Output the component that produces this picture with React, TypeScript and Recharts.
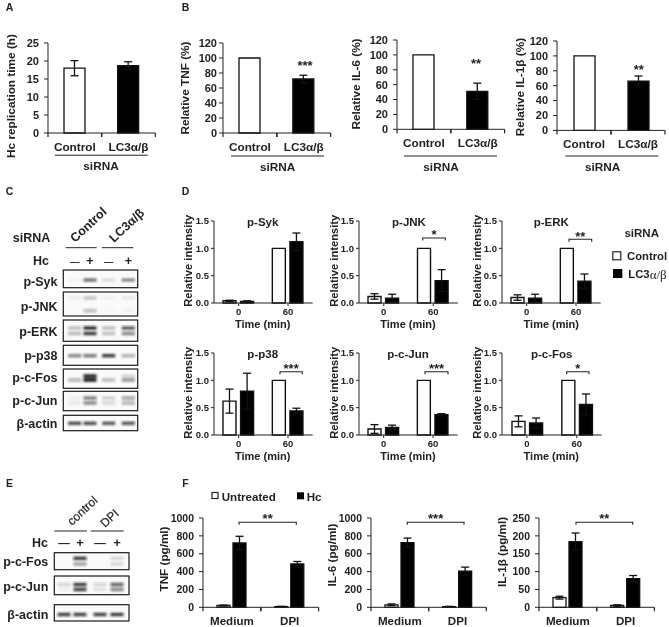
import { BarChart, Bar, XAxis, YAxis, ErrorBar, Cell } from "recharts";

const FONT = "'Liberation Sans', Arial, sans-serif";
const INK = "#222222";

// panel A / B
const knockdownLabels = ["Control", "LC3α/β"];
const replicationValues = [18, 18.7];
const replicationErrors = [2.1, 1.1];
const tnfValues = [100, 72];
const tnfErrors = [0, 5];
const il6Values = [100, 51];
const il6Errors = [0, 11];
const il1Values = [100, 66];
const il1Errors = [0, 7];

// panel D, [0 min, 60 min]
const timeLabels = ["0", "60"];
const pSykControl = [0.04, 1.0];
const pSykControlErr = [0.01, 0];
const pSykLc3 = [0.03, 1.12];
const pSykLc3Err = [0.01, 0.16];
const pJnkControl = [0.12, 1.0];
const pJnkControlErr = [0.05, 0];
const pJnkLc3 = [0.09, 0.41];
const pJnkLc3Err = [0.07, 0.2];
const pErkControl = [0.1, 1.0];
const pErkControlErr = [0.05, 0];
const pErkLc3 = [0.09, 0.4];
const pErkLc3Err = [0.07, 0.13];
const pP38Control = [0.62, 1.0];
const pP38ControlErr = [0.22, 0];
const pP38Lc3 = [0.8, 0.44];
const pP38Lc3Err = [0.33, 0.05];
const pJunControl = [0.11, 1.0];
const pJunControlErr = [0.08, 0];
const pJunLc3 = [0.14, 0.37];
const pJunLc3Err = [0.04, 0.02];
const pFosControl = [0.25, 1.0];
const pFosControlErr = [0.1, 0];
const pFosLc3 = [0.22, 0.56];
const pFosLc3Err = [0.09, 0.19];

// panel F, [Medium, DPI]
const treatmentLabels = ["Medium", "DPI"];
const fTnfUntreated = [20, 8];
const fTnfUntreatedErr = [5, 3];
const fTnfHc = [720, 485];
const fTnfHcErr = [75, 28];
const fIl6Untreated = [28, 8];
const fIl6UntreatedErr = [10, 3];
const fIl6Hc = [725, 405];
const fIl6HcErr = [50, 45];
const fIl1Untreated = [27, 5];
const fIl1UntreatedErr = [4, 2];
const fIl1Hc = [184, 80];
const fIl1HcErr = [24, 9];

// blot band strengths per lane (-, +, -, +)
const cSyk = [[0.03, 0.6, 0.12, 0.5]];
const cJnk = [[0.06, 0.22, 0.04, 0.08], [0, 0.28, 0.02, 0.04]];
const cErk = [[0.25, 0.9, 0.25, 0.7], [0.3, 0.85, 0.28, 0.5]];
const cP38 = [[0.5, 0.55, 0.85, 0.32]];
const cFos = [[0, 0.95, 0, 0.15], [0.3, 1, 0.28, 0.45]];
const cJun = [[0.05, 0.55, 0.18, 0.38], [0.08, 0.5, 0.14, 0.32]];
const cActin = [[0.75, 0.75, 0.7, 0.7]];
const eFos = [[0, 0.85, 0, 0.15], [0, 0.4, 0, 0.15]];
const eJun = [[0.15, 0.85, 0.15, 0.65], [0.05, 0.8, 0.1, 0.5]];
const eActin = [[0.8, 0.8, 0.8, 0.85]];

function pairRows(labels: string[], values: number[], errors: number[]) {
  return labels.map((name, i) => ({ name, a: values[i], aErr: errors[i] }));
}

function groupRows(labels: string[], a: number[], aErr: number[], b: number[], bErr: number[]) {
  return labels.map((name, i) => ({ name, a: a[i], aErr: aErr[i], b: b[i], bErr: bErr[i] }));
}

function BandTick({ x, y, payload, band, size }: any) {
  return (
    <g>
      <line x1={x - band / 2} x2={x - band / 2} y1={y} y2={y + 4} stroke={INK} strokeWidth={1.2} />
      <line x1={x + band / 2} x2={x + band / 2} y1={y} y2={y + 4} stroke={INK} strokeWidth={1.2} />
      <text x={x} y={y + 18} textAnchor="middle" fontSize={size} fontWeight={700} fontFamily={FONT} fill={INK}>
        {payload.value}
      </text>
    </g>
  );
}

type PlotProps = {
  x0: number;
  x1: number;
  y0: number;
  y1: number;
  max: number;
  ticks: number[];
  data: any[];
  barSize: number;
  tickMargin?: number;
  tickFont?: number;
  decimals?: number;
  grouped?: boolean;
  numericTicks?: boolean;
  labelFont?: number;
  gap?: number;
};

// one bar panel, x0..x1 / y0..y1 is the plot box on the page
function Plot({
  x0, x1, y0, y1, max, ticks, data, barSize, tickMargin = 5, tickFont = 11,
  decimals = 0, grouped = false, numericTicks = false, labelFont = 11.8, gap = 3,
}: PlotProps) {
  const left = 52;
  const top = 8;
  const right = 8;
  const bottom = 32;
  const band = (x1 - x0) / data.length;
  const catGap = grouped ? (band - barSize * 2 - gap) / 2 : (band - barSize) / 2;
  const strokeW = numericTicks ? 1.4 : 1.3;
  return (
    <div style={{ position: "absolute", left: x0 - left, top: y0 - top }}>
      <BarChart
        width={x1 - x0 + left + right}
        height={y1 - y0 + top + bottom}
        data={data}
        margin={{ top, right, left: 0, bottom: 0 }}
        barSize={barSize}
        barGap={gap}
        barCategoryGap={catGap}
      >
        {numericTicks ? (
          <XAxis
            dataKey="name"
            interval={0}
            height={bottom}
            tickSize={3}
            tickMargin={2}
            stroke={INK}
            tick={{ fontSize: 9.5, fontWeight: 700, fontFamily: FONT, fill: INK }}
          />
        ) : (
          <XAxis
            dataKey="name"
            interval={0}
            height={bottom}
            tickLine={false}
            tickSize={0}
            tickMargin={0}
            stroke={INK}
            tick={(p: any) => <BandTick {...p} band={band} size={labelFont} />}
          />
        )}
        <YAxis
          width={left}
          domain={[0, max]}
          ticks={ticks}
          interval={0}
          tickSize={numericTicks ? 3 : 4}
          tickMargin={tickMargin}
          stroke={INK}
          tickFormatter={(v: number) => v.toFixed(decimals)}
          tick={{ fontSize: tickFont, fontWeight: 700, fontFamily: FONT, fill: INK }}
        />
        <Bar dataKey="a" fill={grouped ? "#ffffff" : "#000000"} stroke="#111111" strokeWidth={strokeW} isAnimationActive={false}>
          {!grouped && data.map((_, i) => <Cell key={i} fill={i === 0 ? "#ffffff" : "#000000"} />)}
          <ErrorBar dataKey="aErr" width={4} stroke="#111111" strokeWidth={1.3} isAnimationActive={false} />
        </Bar>
        {grouped && (
          <Bar dataKey="b" fill="#000000" stroke="#111111" strokeWidth={strokeW} isAnimationActive={false}>
            <ErrorBar dataKey="bErr" width={4} stroke="#111111" strokeWidth={1.3} isAnimationActive={false} />
          </Bar>
        )}
      </BarChart>
    </div>
  );
}

// page text helper, y is the middle of the text
function T({ x, y, size = 11.5, anchor = "middle", rotate = 0, weight = 700, children }: any) {
  return (
    <text
      x={x}
      y={y}
      fontSize={size}
      fontWeight={weight}
      fontFamily={FONT}
      fill={INK}
      textAnchor={anchor}
      dominantBaseline="central"
      transform={rotate ? `rotate(${rotate} ${x} ${y})` : undefined}
    >
      {children}
    </text>
  );
}

function Blot({ x0, x1, y0, y1, lanes, bands, bandY, bandW = 13 }: any) {
  return (
    <g>
      <rect x={x0} y={y0} width={x1 - x0} height={y1 - y0} fill="#fafafa" stroke="#1a1a1a" strokeWidth={1.2} />
      <g filter="url(#blotBlur)">
        {bands.map((row: number[], r: number) =>
          row.map((v, l) =>
            v > 0 ? (
              <rect key={`${r}-${l}`} x={lanes[l] - bandW / 2} y={bandY[r] - 1.7} width={bandW} height={3.4} fill="#141414" opacity={v} />
            ) : null,
          ),
        )}
      </g>
    </g>
  );
}

function Bracket({ x1, x2, y, stars, starY }: any) {
  return (
    <g>
      <path d={`M${x1} ${y + 2.5} V${y} H${x2} V${y + 2.5}`} fill="none" stroke={INK} strokeWidth={1.1} />
      <T x={(x1 + x2) / 2} y={starY} size={13}>{stars}</T>
    </g>
  );
}

function Annotations() {
  const cLanes = [74.7, 90, 108.7, 128.3];
  const eLanes = [64, 80, 100, 117];
  const dTitles = [
    ["p-Syk", 262.7, 222.3], ["p-JNK", 409, 222.3], ["p-ERK", 551.3, 222.3],
    ["p-p38", 262.7, 354], ["p-c-Jun", 408, 354], ["p-c-Fos", 551.7, 354],
  ];
  const dAxisX = [
    [188.3, 262.7], [334, 408], [477.3, 551.3],
  ];
  return (
    <svg width={669} height={627} style={{ position: "absolute", left: 0, top: 0, pointerEvents: "none" }}>
      <defs>
        <filter id="blotBlur" x="-10%" y="-30%" width="120%" height="160%">
          <feGaussianBlur stdDeviation="1.25" />
        </filter>
      </defs>

      {/* panel letters */}
      <T x={9.5} y={7} size={10.5}>A</T>
      <T x={185.5} y={7} size={10.5}>B</T>
      <T x={9.5} y={191} size={10.5}>C</T>
      <T x={185.5} y={191} size={10.5}>D</T>
      <T x={9.5} y={482.5} size={10.5}>E</T>
      <T x={185.5} y={482.5} size={10.5}>F</T>

      {/* A / B labels */}
      <T x={10.7} y={96} size={11.8} rotate={-90}>Hc replication time (h)</T>
      <T x={185} y={88} size={11.8} rotate={-90}>Relative TNF (%)</T>
      <T x={355.7} y={84} size={11.8} rotate={-90}>Relative IL-6 (%)</T>
      <T x={520} y={87} size={11.8} rotate={-90}>Relative IL-1β (%)</T>
      {[[55, 147.7, 155.3, 101], [231, 324, 156, 277.7], [404, 497, 156, 441], [565.3, 658.3, 156, 602.7]].map(([a, b, y, c]) => (
        <g key={a}>
          <line x1={a} x2={b} y1={y} y2={y} stroke={INK} strokeWidth={1.1} />
          <T x={c} y={y + 11} size={11.8}>siRNA</T>
        </g>
      ))}
      <T x={305} y={65} size={13}>***</T>
      <T x={476} y={63} size={13}>**</T>
      <T x={638.7} y={69} size={13}>**</T>

      {/* panel C */}
      <T x={31.5} y={238} size={12.5}>siRNA</T>
      <T x={49} y={261} size={12.5} anchor="end">Hc</T>
      <line x1={65.7} x2={96.7} y1={247.7} y2={247.7} stroke={INK} strokeWidth={1} />
      <line x1={102} x2={133.3} y1={247.7} y2={247.7} stroke={INK} strokeWidth={1} />
      <text x={75} y={243} transform="rotate(-43 75 243)" fontSize={12.5} fontWeight={700} fontFamily={FONT} fill={INK}>Control</text>
      <text x={114} y={243} transform="rotate(-43 114 243)" fontSize={12.5} fontWeight={700} fontFamily={FONT} fill={INK}>LC3α/β</text>
      {["—", "+", "—", "+"].map((s, i) => (
        <T key={i} x={cLanes[i]} y={261} size={s === "+" ? 12.5 : 9.5}>{s}</T>
      ))}
      <Blot x0={63.3} x1={137.7} y0={270} y1={287.7} lanes={cLanes} bands={cSyk} bandY={[280]} />
      <Blot x0={63.3} x1={137.7} y0={292} y1={316} lanes={cLanes} bands={cJnk} bandY={[298, 310.7]} />
      <Blot x0={63.3} x1={137.7} y0={320} y1={341.3} lanes={cLanes} bands={cErk} bandY={[328, 333.5]} />
      <Blot x0={63.3} x1={137.7} y0={345.3} y1={365.3} lanes={cLanes} bands={cP38} bandY={[355.7]} />
      <Blot x0={63.3} x1={137.7} y0={369} y1={388.3} lanes={cLanes} bands={cFos} bandY={[376, 380]} />
      <Blot x0={63.3} x1={137.7} y0={391.3} y1={410.7} lanes={cLanes} bands={cJun} bandY={[398, 403]} />
      <Blot x0={63.3} x1={137.7} y0={415.3} y1={430.7} lanes={cLanes} bands={cActin} bandY={[423.3]} />
      {[["p-Syk", 282], ["p-JNK", 306.7], ["p-ERK", 331.7], ["p-p38", 356], ["p-c-Fos", 378], ["p-c-Jun", 400.7], ["β-actin", 424.3]].map(([s, y]) => (
        <T key={s as string} x={57.5} y={y} size={12.5} anchor="end">{s}</T>
      ))}

      {/* panel D */}
      {dTitles.map(([s, x, y]) => (
        <T key={s as string} x={x} y={y} size={11.5}>{s}</T>
      ))}
      {dAxisX.map(([lab, time]) => (
        <g key={lab}>
          <T x={lab} y={260.7} size={11.2} rotate={-90}>Relative intensity</T>
          <T x={time} y={324.3} size={11}>Time (min)</T>
          <T x={lab} y={392.7} size={11.2} rotate={-90}>Relative intensity</T>
          <T x={time} y={456} size={11}>Time (min)</T>
        </g>
      ))}
      <Bracket x1={422.7} x2={445.3} y={238} stars="*" starY={234} />
      <Bracket x1={569} x2={591.7} y={239.3} stars="**" starY={236} />
      <Bracket x1={280} x2={302.3} y={371.7} stars="***" starY={368} />
      <Bracket x1={425} x2={448} y={371.7} stars="***" starY={368} />
      <Bracket x1={566.7} x2={589} y={371.7} stars="*" starY={368} />
      <T x={641.7} y={233.3} size={11.5}>siRNA</T>
      <rect x={612.8} y={251.8} width={8} height={8} fill="#fff" stroke={INK} strokeWidth={1.2} />
      <T x={627} y={255.5} size={11.3} anchor="start">Control</T>
      <rect x={613} y={269} width={9.3} height={9} fill="#000" />
      <text x={628.3} y={273.7} fontSize={11.3} fontWeight={700} fontFamily={FONT} fill={INK} dominantBaseline="central">
        LC3<tspan fontFamily="'Liberation Serif', serif" fontSize={13} fontWeight={400}>α/β</tspan>
      </text>

      {/* panel E */}
      <line x1={54.3} x2={87} y1={531} y2={531} stroke={INK} strokeWidth={1} />
      <line x1={90.7} x2={123.7} y1={531} y2={531} stroke={INK} strokeWidth={1} />
      <text x={72} y={526} transform="rotate(-43 72 526)" fontSize={12} fontWeight={400} fontFamily={FONT} fill={INK} stroke={INK} strokeWidth={0.2}>control</text>
      <text x={105} y={528} transform="rotate(-43 105 528)" fontSize={12} fontWeight={400} fontFamily={FONT} fill={INK} stroke={INK} strokeWidth={0.2}>DPI</text>
      <T x={48} y={542.7} size={12.5} anchor="end">Hc</T>
      {["—", "+", "—", "+"].map((s, i) => (
        <T key={i} x={eLanes[i]} y={542.7} size={s === "+" ? 13 : 11.5}>{s}</T>
      ))}
      <Blot x0={54.3} x1={129} y0={552.7} y1={569.7} lanes={eLanes} bands={eFos} bandY={[558.3, 564]} />
      <Blot x0={54.3} x1={129} y0={576} y1={594.7} lanes={eLanes} bands={eJun} bandY={[584.5, 589.5]} />
      <Blot x0={54.3} x1={129} y0={604.7} y1={621} lanes={eLanes} bands={eActin} bandY={[614.5]} />
      {[["p-c-Fos", 562.3], ["p-c-Jun", 587.3], ["β-actin", 615]].map(([s, y]) => (
        <T key={s as string} x={48.3} y={y} size={12.5} anchor="end">{s}</T>
      ))}

      {/* panel F */}
      <rect x={212} y={492.5} width={6} height={6} fill="#fff" stroke={INK} strokeWidth={1.2} />
      <T x={221.7} y={496} size={11.6} anchor="start">Untreated</T>
      <rect x={297} y={492.3} width={7} height={7} fill="#000" />
      <T x={306.7} y={496} size={11.6} anchor="start">Hc</T>
      <T x={163.3} y={559} size={11.7} rotate={-90}>TNF (pg/ml)</T>
      <T x={331.3} y={555} size={11.7} rotate={-90}>IL-6 (pg/ml)</T>
      <T x={501} y={552} size={11.7} rotate={-90}>IL-1β (pg/ml)</T>
      <Bracket x1={239} x2={296.3} y={522.3} stars="**" starY={518} />
      <Bracket x1={407.3} x2={464} y={522.3} stars="***" starY={518} />
      <Bracket x1={576} x2={632.7} y={522.3} stars="**" starY={518} />
    </svg>
  );
}

export default function App() {
  const pct = [0, 20, 40, 60, 80, 100, 120];
  const rel = [0, 0.5, 1, 1.5];
  const pgThousand = [0, 200, 400, 600, 800, 1000];
  const pgQuarter = [0, 50, 100, 150, 200, 250];
  const dPlot = { max: 1.5, ticks: rel, barSize: 13, tickMargin: 2, tickFont: 9.5, decimals: 1, grouped: true, numericTicks: true, gap: 4.6 };
  const fPlot = { barSize: 13, tickMargin: 5, tickFont: 10.5, grouped: true, labelFont: 11.6, gap: 3 };
  return (
    <div style={{ position: "absolute", left: 0, top: 0, width: 669, height: 627, background: "#fff", overflow: "hidden", filter: "blur(0.3px)" }}>
      <Plot x0={47.7} x1={155} y0={42.7} y1={132.7} max={25} ticks={[0, 5, 10, 15, 20, 25]} barSize={21} data={pairRows(knockdownLabels, replicationValues, replicationErrors)} />
      <Plot x0={223.3} x1={331} y0={42.7} y1={132.7} max={120} ticks={pct} barSize={21} tickMargin={2} data={pairRows(knockdownLabels, tnfValues, tnfErrors)} />
      <Plot x0={396.7} x1={504.3} y0={40} y1={129.3} max={120} ticks={pct} barSize={21} data={pairRows(knockdownLabels, il6Values, il6Errors)} />
      <Plot x0={557} x1={665} y0={41.3} y1={130.7} max={120} ticks={pct} barSize={21} data={pairRows(knockdownLabels, il1Values, il1Errors)} />

      <Plot x0={214} x1={312.7} y0={220.7} y1={302.7} {...dPlot} data={groupRows(timeLabels, pSykControl, pSykControlErr, pSykLc3, pSykLc3Err)} />
      <Plot x0={359.3} x1={458.3} y0={220.7} y1={302.7} {...dPlot} data={groupRows(timeLabels, pJnkControl, pJnkControlErr, pJnkLc3, pJnkLc3Err)} />
      <Plot x0={502} x1={600.7} y0={220.7} y1={302.7} {...dPlot} data={groupRows(timeLabels, pErkControl, pErkControlErr, pErkLc3, pErkLc3Err)} />
      <Plot x0={214} x1={312.7} y0={352.7} y1={434.7} {...dPlot} data={groupRows(timeLabels, pP38Control, pP38ControlErr, pP38Lc3, pP38Lc3Err)} />
      <Plot x0={359.3} x1={458} y0={352.7} y1={434.7} {...dPlot} data={groupRows(timeLabels, pJunControl, pJunControlErr, pJunLc3, pJunLc3Err)} />
      <Plot x0={502.3} x1={602} y0={352.7} y1={434.7} {...dPlot} data={groupRows(timeLabels, pFosControl, pFosControlErr, pFosLc3, pFosLc3Err)} />

      <Plot x0={202.7} x1={318.3} y0={518} y1={607.3} max={1000} ticks={pgThousand} {...fPlot} data={groupRows(treatmentLabels, fTnfUntreated, fTnfUntreatedErr, fTnfHc, fTnfHcErr)} />
      <Plot x0={370.7} x1={486} y0={518} y1={607.3} max={1000} ticks={pgThousand} {...fPlot} data={groupRows(treatmentLabels, fIl6Untreated, fIl6UntreatedErr, fIl6Hc, fIl6HcErr)} />
      <Plot x0={539.3} x1={654.7} y0={518} y1={607.3} max={250} ticks={pgQuarter} {...fPlot} data={groupRows(treatmentLabels, fIl1Untreated, fIl1UntreatedErr, fIl1Hc, fIl1HcErr)} />

      <Annotations />
    </div>
  );
}
